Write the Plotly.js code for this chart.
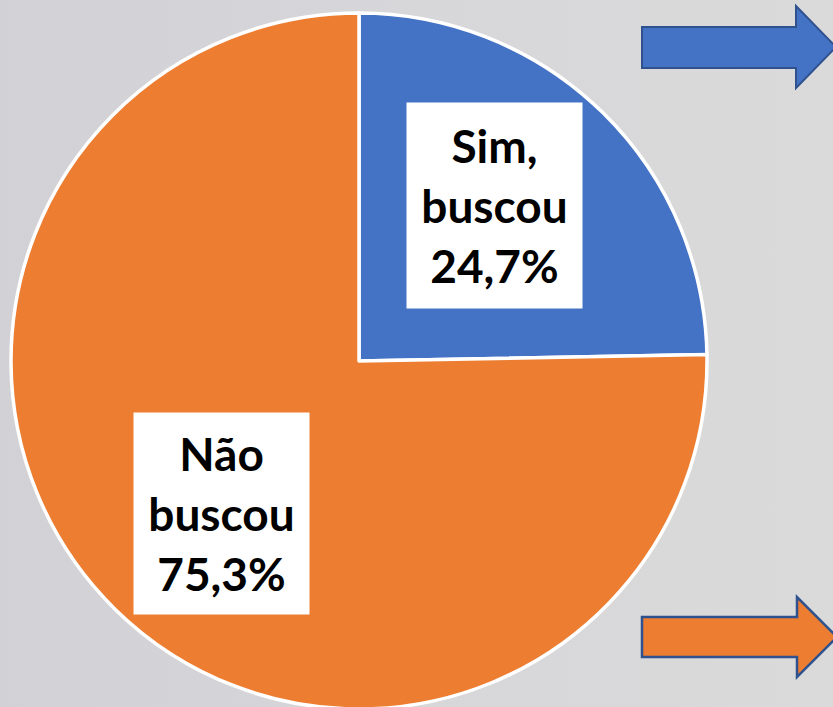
<!DOCTYPE html>
<html>
<head>
<meta charset="utf-8">
<script src="https://cdn.plot.ly/plotly-3.0.1.min.js"></script>
<style>
html, body { margin:0; padding:0; width:833px; height:707px; overflow:hidden;
  background: linear-gradient(to right, #d1d1d6 0%, #d7d7da 50%, #dadada 100%); }
#chart { width:833px; height:720px; }
</style>
</head>
<body>
<div id="chart"></div>
<script>
const labels = ["Sim, buscou", "Não buscou"];
const values = [24.7, 75.3];
const boxLines = [["Sim,", "buscou"], ["Não", "buscou"]];
const colors = ["#4472c4", "#ed7d31"];

function fmt(v) { return v.toFixed(1).replace(".", ",") + "%"; }

const W = 833, H = 720;
const px = x => x / W;
const py = y => (H - y) / H;

const trace = {
  type: "pie",
  labels: labels,
  values: values,
  sort: false,
  direction: "clockwise",
  rotation: 0,
  textinfo: "none",
  hoverinfo: "label+percent",
  marker: { colors: colors, line: { color: "#ffffff", width: 3.5 } },
  domain: { x: [px(11), px(707)], y: [py(709), py(13)] },
  showlegend: false
};

const boxPos = [[494.5, 205.5], [221.5, 513.5]];
const annotations = labels.map((l, i) => ({
  xref: "paper", yref: "paper",
  x: px(boxPos[i][0]), y: py(boxPos[i][1]),
  xanchor: "center", yanchor: "middle",
  showarrow: false,
  text: "<b>" + boxLines[i].join("<br>") + "<br>" + fmt(values[i]) + "</b>",
  font: { family: "Lato, 'Open Sans', sans-serif", size: 46, color: "#000000" },
  bgcolor: "#ffffff",
  width: 173, height: i === 0 ? 203 : 199,
  borderpad: 1,
  align: "center", valign: "middle"
}));

function arrow(x0, yTop, yBot, hx, hTop, hBot, tip, yMid) {
  return "M" + px(x0) + "," + py(yTop) + " L" + px(hx) + "," + py(yTop) +
    " L" + px(hx) + "," + py(hTop) + " L" + px(tip) + "," + py(yMid) +
    " L" + px(hx) + "," + py(hBot) + " L" + px(hx) + "," + py(yBot) +
    " L" + px(x0) + "," + py(yBot) + " Z";
}

const shapes = [
  { type: "path", xref: "paper", yref: "paper",
    path: arrow(642, 27, 68, 796, 6, 88, 836, 47),
    fillcolor: colors[0], line: { color: "#2f528f", width: 2 } },
  { type: "path", xref: "paper", yref: "paper",
    path: arrow(642, 617, 657, 797, 597, 677, 837, 637),
    fillcolor: colors[1], line: { color: "#2f528f", width: 2.5 } }
];

const layout = {
  width: W, height: H,
  margin: { l: 0, r: 0, t: 0, b: 0 },
  paper_bgcolor: "rgba(0,0,0,0)",
  plot_bgcolor: "rgba(0,0,0,0)",
  annotations: annotations,
  shapes: shapes
};

Plotly.newPlot("chart", [trace], layout, { displayModeBar: false, staticPlot: true });
</script>
</body>
</html>
